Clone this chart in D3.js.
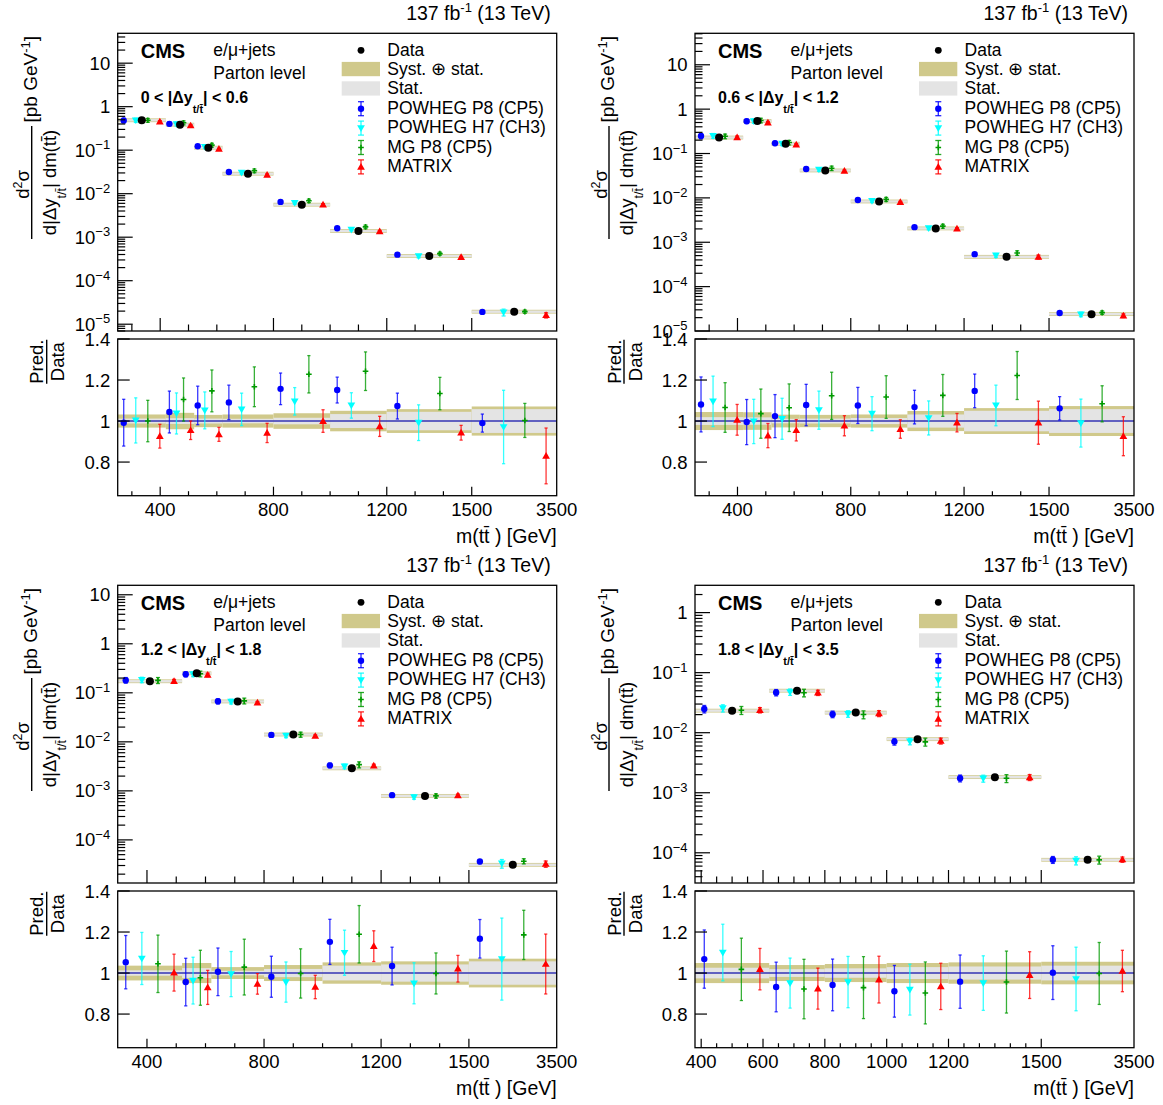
<!DOCTYPE html>
<html><head><meta charset="utf-8">
<script src="https://cdn.jsdelivr.net/npm/d3@7"></script>
<style>
body{margin:0;background:#fff}
text{font-family:"Liberation Sans",Arial,Helvetica,sans-serif;fill:#000}
</style>
</head><body>
<svg id="c" width="1163" height="1105"></svg>
<script>
// ---------------- DATA ----------------
const seriesNames = ["POWHEG P8 (CP5)", "POWHEG H7 (CH3)", "MG P8 (CP5)", "MATRIX"];
const dyRanges = [["0", "0.6"], ["0.6", "1.2"], ["1.2", "1.8"], ["1.8", "3.5"]];
const ratioRange = [0.636, 1.4];
const ratioTicks = [0.8, 1, 1.2, 1.4];
const ratioTickLabels = ["0.8", "1", "1.2", "1.4"];

// |dy| 0 - 0.6
const bins1 = [250, 420, 520, 620, 800, 1000, 1200, 1500, 3500];
const data1 = [0.487, 0.386, 0.114, 0.0288, 0.00559, 0.00139, 0.00037, 0.0000194];
const tot1 = [0.032, 0.040, 0.030, 0.032, 0.038, 0.050, 0.058, 0.071];
const stat1 = [0.012, 0.014, 0.012, 0.011, 0.016, 0.034, 0.045, 0.058];
const p8_1 = [0.992, 1.044, 1.076, 1.091, 1.157, 1.151, 1.073, 0.990];
const p8e_1 = [0.114, 0.102, 0.094, 0.084, 0.077, 0.063, 0.063, 0.044];
const h7_1 = [1.003, 1.037, 1.052, 1.057, 1.096, 1.076, 0.992, 0.971];
const h7e_1 = [0.110, 0.100, 0.090, 0.079, 0.067, 0.062, 0.087, 0.179];
const mg_1 = [1.000, 1.105, 1.147, 1.167, 1.228, 1.243, 1.134, 1.003];
const mge_1 = [0.101, 0.105, 0.102, 0.097, 0.091, 0.094, 0.079, 0.083];
const mx_1 = [0.926, 0.955, 0.935, 0.942, 1.000, 0.974, 0.943, 0.830];
const mxe_1 = [0.058, 0.045, 0.034, 0.047, 0.055, 0.049, 0.036, 0.136];
const yRange1 = [6.98e-6, 48.6];
const xTickLabels1 = [400, 800, 1200, 1500, 3500];

// |dy| 0.6 - 1.2
const bins2 = [250, 420, 520, 620, 800, 1000, 1200, 1500, 3500];
const data2 = [0.229, 0.537, 0.166, 0.0415, 0.0083, 0.00205, 0.00047, 0.000024];
const tot2 = [0.044, 0.043, 0.031, 0.030, 0.032, 0.049, 0.063, 0.073];
const stat2 = [0.019, 0.018, 0.011, 0.012, 0.015, 0.032, 0.050, 0.058];
const p8_2 = [1.081, 0.995, 1.024, 1.078, 1.076, 1.068, 1.147, 1.062];
const p8e_2 = [0.134, 0.110, 0.105, 0.101, 0.088, 0.082, 0.082, 0.057];
const h7_2 = [1.096, 0.998, 1.011, 1.053, 1.036, 1.015, 1.076, 0.990];
const h7e_2 = [0.123, 0.108, 0.100, 0.093, 0.083, 0.083, 0.099, 0.117];
const mg_2 = [1.066, 1.036, 1.065, 1.123, 1.117, 1.125, 1.222, 1.084];
const mge_2 = [0.121, 0.120, 0.116, 0.115, 0.104, 0.102, 0.117, 0.088];
const mx_2 = [1.006, 0.929, 0.955, 0.977, 0.961, 0.992, 0.992, 0.926];
const mxe_2 = [0.075, 0.059, 0.052, 0.049, 0.045, 0.045, 0.105, 0.095];
const yRange2 = [1.0e-5, 51.2];
const xTickLabels2 = [400, 800, 1200, 1500, 3500];

// |dy| 1.2 - 1.8
const bins3 = [300, 520, 620, 800, 1000, 1200, 1500, 3500];
const data3 = [0.172, 0.25, 0.0667, 0.0141, 0.00288, 0.00079, 0.000031];
const tot3 = [0.036, 0.049, 0.029, 0.039, 0.052, 0.057, 0.070];
const stat3 = [0.013, 0.024, 0.011, 0.020, 0.036, 0.042, 0.057];
const p8_3 = [1.053, 0.956, 1.006, 0.982, 1.152, 1.034, 1.167];
const p8e_3 = [0.130, 0.116, 0.116, 0.100, 0.110, 0.092, 0.094];
const h7_3 = [1.071, 0.963, 0.995, 0.956, 1.099, 0.950, 1.068];
const h7e_3 = [0.127, 0.114, 0.110, 0.098, 0.110, 0.100, 0.200];
const mg_3 = [1.045, 0.977, 1.029, 0.998, 1.189, 0.998, 1.186];
const mge_3 = [0.140, 0.134, 0.136, 0.120, 0.140, 0.100, 0.120];
const mx_3 = [1.002, 0.930, 0.947, 0.932, 1.131, 1.021, 1.044];
const mxe_3 = [0.090, 0.083, 0.050, 0.057, 0.075, 0.065, 0.146];
const yRange3 = [1.32e-5, 15.6];
const xTickLabels3 = [400, 800, 1200, 1500, 3500];

// |dy| 1.8 - 3.5
const bins4 = [380, 620, 800, 1000, 1200, 1500, 3500];
const data4 = [0.0233, 0.0501, 0.0216, 0.0078, 0.00182, 0.0000765];
const tot4 = [0.049, 0.039, 0.044, 0.049, 0.052, 0.055];
const stat4 = [0.026, 0.019, 0.023, 0.029, 0.032, 0.036];
const p8_4 = [1.068, 0.932, 0.942, 0.911, 0.958, 1.002];
const p8e_4 = [0.142, 0.121, 0.126, 0.126, 0.130, 0.131];
const h7_4 = [1.100, 0.951, 0.956, 0.919, 0.951, 0.971];
const h7e_4 = [0.138, 0.122, 0.125, 0.124, 0.133, 0.155];
const mg_4 = [1.018, 0.922, 0.929, 0.903, 0.956, 0.998];
const mge_4 = [0.152, 0.145, 0.151, 0.151, 0.151, 0.151];
const mx_4 = [1.019, 0.924, 0.968, 0.935, 0.990, 1.010];
const mxe_4 = [0.101, 0.100, 0.114, 0.113, 0.114, 0.101];
const yRange4 = [3.14e-5, 2.85];
const xTickLabels4 = [400, 600, 800, 1000, 1200, 1500, 3500];

const panels = [
  {bins: bins1, data: data1, tot: tot1, stat: stat1, preds: [p8_1, h7_1, mg_1, mx_1], errs: [p8e_1, h7e_1, mge_1, mxe_1], yRange: yRange1, xLabels: xTickLabels1, minor: 100, dy: dyRanges[0]},
  {bins: bins2, data: data2, tot: tot2, stat: stat2, preds: [p8_2, h7_2, mg_2, mx_2], errs: [p8e_2, h7e_2, mge_2, mxe_2], yRange: yRange2, xLabels: xTickLabels2, minor: 100, dy: dyRanges[1]},
  {bins: bins3, data: data3, tot: tot3, stat: stat3, preds: [p8_3, h7_3, mg_3, mx_3], errs: [p8e_3, h7e_3, mge_3, mxe_3], yRange: yRange3, xLabels: xTickLabels3, minor: 100, dy: dyRanges[2]},
  {bins: bins4, data: data4, tot: tot4, stat: stat4, preds: [p8_4, h7_4, mg_4, mx_4], errs: [p8e_4, h7e_4, mge_4, mxe_4], yRange: yRange4, xLabels: xTickLabels4, minor: 50, dy: dyRanges[3]}
];

// ---------------- STYLE / LAYOUT ----------------
const layout = [
  {x0: 117.7, x1: 556.7, top: 33.3},
  {x0: 695, x1: 1134, top: 33.3},
  {x0: 117.7, x1: 556.7, top: 585.3},
  {x0: 695, x1: 1134, top: 585.3}
];
const colors = ["#0000ff", "#00ffff", "#009a00", "#ff0000"];
const shapes = ["circle", "tridown", "plus", "triup"];
const KHAKI = "#d0c98b", GREY = "#e4e4e4";
const FS = 17.5;   // legend / label font
const FT = 18.5;   // tick labels / titles

const svg = d3.select("#c");

function marker(g, shape, cx, cy, color) {
  if (shape === "circle") {
    g.append("circle").attr("cx", cx).attr("cy", cy).attr("r", 3.2).attr("fill", color);
  } else if (shape === "triup" || shape === "tridown") {
    g.append("path").attr("d", d3.symbol(d3.symbolTriangle, 26)())
      .attr("transform", `translate(${cx},${cy + (shape === "triup" ? 0.6 : -0.6)}) rotate(${shape === "triup" ? 0 : 180})`)
      .attr("fill", color);
  } else if (shape === "plus") {
    g.append("path").attr("d", `M${cx - 2.8},${cy}H${cx + 2.8}M${cx},${cy - 2.8}V${cy + 2.8}`)
      .attr("stroke", color).attr("stroke-width", 1.6);
  }
}
function errBar(g, cx, ya, yb, color, cap, op) {
  g.append("line").attr("x1", cx).attr("x2", cx).attr("y1", ya).attr("y2", yb)
    .attr("stroke", color).attr("stroke-width", 1.3).attr("stroke-opacity", op);
  [ya, yb].forEach(y => g.append("line").attr("x1", cx - cap).attr("x2", cx + cap).attr("y1", y).attr("y2", y)
    .attr("stroke", color).attr("stroke-width", 1.3).attr("stroke-opacity", op));
}

panels.forEach((p, i) => {
  const L = layout[i];
  const x0 = L.x0, x1 = L.x1;
  const uTop = L.top, uBot = L.top + 297.7, rTop = L.top + 305.7, rBot = L.top + 462.4;
  const g = svg.append("g");
  const lo = p.bins[0];
  const k = (x1 - x0) / ((1500 - lo) + 300);
  const xs = d3.scaleLinear().domain([lo, 1500, 3500]).range([x0, x0 + (1500 - lo) * k, x1]);
  const ys = d3.scaleLog().domain(p.yRange).range([uBot, uTop]);
  const rs = d3.scaleLinear().domain(ratioRange).range([rBot, rTop]);
  const nb = p.data.length;

  // ---------- upper panel ----------
  const up = g.append("g");
  for (let b = 0; b < nb; b++) {
    const xa = xs(p.bins[b]), xb = xs(p.bins[b + 1]);
    const d = p.data[b];
    const yc = ys(d);
    let h1 = ys(d * (1 - p.tot[b])) - ys(d * (1 + p.tot[b])); h1 = Math.max(h1, 3.8);
    let h2 = ys(d * (1 - p.stat[b])) - ys(d * (1 + p.stat[b])); h2 = Math.max(h2, 2.4);
    up.append("rect").attr("x", xa).attr("width", xb - xa).attr("y", yc - h1 / 2).attr("height", h1).attr("fill", KHAKI);
    up.append("rect").attr("x", xa).attr("width", xb - xa).attr("y", yc - h2 / 2).attr("height", h2).attr("fill", GREY);
  }
  for (let b = 0; b < nb; b++) {
    const xa = xs(p.bins[b]), xb = xs(p.bins[b + 1]);
    for (let s = 0; s < 4; s++) {
      const cx = xa + (xb - xa) * (2 * s + 1) / 8;
      const v = p.data[b] * p.preds[s][b];
      const e = p.errs[s][b];
      errBar(up, cx, ys(v * (1 + e)), ys(v * (1 - e)), colors[s], 2, 0.85);
      marker(up, shapes[s], cx, ys(v), colors[s]);
    }
    up.append("circle").attr("cx", (xa + xb) / 2).attr("cy", ys(p.data[b])).attr("r", 4).attr("fill", "#000");
  }

  // ---------- ratio panel ----------
  const rp = g.append("g");
  for (let b = 0; b < nb; b++) {
    const xa = xs(p.bins[b]), xb = xs(p.bins[b + 1]);
    rp.append("rect").attr("x", xa).attr("width", xb - xa).attr("y", rs(1 + p.tot[b])).attr("height", rs(1 - p.tot[b]) - rs(1 + p.tot[b])).attr("fill", KHAKI);
    rp.append("rect").attr("x", xa).attr("width", xb - xa).attr("y", rs(1 + p.stat[b])).attr("height", rs(1 - p.stat[b]) - rs(1 + p.stat[b])).attr("fill", GREY);
  }
  rp.append("line").attr("x1", x0).attr("x2", x1).attr("y1", rs(1)).attr("y2", rs(1)).attr("stroke", "#3434b4").attr("stroke-width", 1.4);
  for (let b = 0; b < nb; b++) {
    const xa = xs(p.bins[b]), xb = xs(p.bins[b + 1]);
    for (let s = 0; s < 4; s++) {
      const cx = xa + (xb - xa) * (2 * s + 1) / 8;
      const r = p.preds[s][b], e = p.errs[s][b];
      errBar(rp, cx, rs(r + e), rs(r - e), colors[s], 1.6, 0.78);
      marker(rp, shapes[s], cx, rs(r), colors[s]);
    }
  }

  // ---------- frames ----------
  g.append("rect").attr("x", x0).attr("y", uTop).attr("width", x1 - x0).attr("height", uBot - uTop).attr("fill", "none").attr("stroke", "#000").attr("stroke-width", 1.3);
  g.append("rect").attr("x", x0).attr("y", rTop).attr("width", x1 - x0).attr("height", rBot - rTop).attr("fill", "none").attr("stroke", "#000").attr("stroke-width", 1.3);

  // ---------- x ticks ----------
  const majorSet = new Set(p.xLabels.filter(v => v < 3500));
  const tickVals = d3.range(Math.ceil((lo + 1) / p.minor) * p.minor, 1500 + 1, p.minor);
  tickVals.forEach(v => {
    const x = xs(v);
    const maj = majorSet.has(v);
    g.append("line").attr("x1", x).attr("x2", x).attr("y1", uBot).attr("y2", uBot - (maj ? 13 : 6.5)).attr("stroke", "#000").attr("stroke-width", 1.2);
    g.append("line").attr("x1", x).attr("x2", x).attr("y1", rBot).attr("y2", rBot - (maj ? 9 : 4.5)).attr("stroke", "#000").attr("stroke-width", 1.2);
  });
  p.xLabels.forEach(v => {
    g.append("text").attr("x", xs(v)).attr("y", rBot + 20.5).attr("text-anchor", "middle").attr("font-size", FT).text(v);
  });
  const xt = g.append("text").attr("x", x1).attr("y", rBot + 47).attr("text-anchor", "end").attr("font-size", 19.5);
  xt.append("tspan").text("m(t");
  xt.append("tspan").text("t\u0304");
  xt.append("tspan").text(" ) [GeV]");

  // ---------- y ticks (log) ----------
  const eMin = Math.floor(Math.log10(p.yRange[0])), eMax = Math.ceil(Math.log10(p.yRange[1]));
  for (let e = eMin; e <= eMax; e++) {
    for (let m = 1; m <= 9; m++) {
      const v = m * Math.pow(10, e);
      if (v < p.yRange[0] * 0.999 || v > p.yRange[1]) continue;
      const y = ys(v);
      g.append("line").attr("x1", x0).attr("x2", x0 + (m === 1 ? 15 : 7.5)).attr("y1", y).attr("y2", y).attr("stroke", "#000").attr("stroke-width", 1.2);
    }
    const vv = Math.pow(10, e);
    if (vv >= p.yRange[0] * 0.97 && vv <= p.yRange[1]) {
      const t = g.append("text").attr("x", x0 - 7.5).attr("y", ys(vv) + 6.5).attr("text-anchor", "end").attr("font-size", FT);
      if (e === 0) t.text("1");
      else if (e === 1) t.text("10");
      else {
        t.append("tspan").text("10");
        t.append("tspan").attr("dy", -7.5).attr("font-size", 13).text("\u2212" + Math.abs(e));
      }
    }
  }
  ratioTicks.forEach((v, j) => {
    const y = rs(v);
    g.append("line").attr("x1", x0).attr("x2", x0 + 12).attr("y1", y).attr("y2", y).attr("stroke", "#000").attr("stroke-width", 1.2);
    g.append("text").attr("x", x0 - 7.5).attr("y", y + 6.5).attr("text-anchor", "end").attr("font-size", FT).text(ratioTickLabels[j]);
  });

  // ---------- y titles ----------
  const cy = uTop + 149.2, cx = x0 - 86;
  const yt = g.append("g").attr("transform", `translate(${cx},${cy}) rotate(-90)`);
  yt.append("line").attr("x1", -56.5).attr("x2", 56.5).attr("y1", 0).attr("y2", 0).attr("stroke", "#000").attr("stroke-width", 1.4);
  const num = yt.append("text").attr("x", -2).attr("y", -2.5).attr("text-anchor", "middle").attr("font-size", FT);
  num.append("tspan").text("d");
  num.append("tspan").attr("dy", -7).attr("font-size", 12.5).text("2");
  num.append("tspan").attr("dy", 7).text("\u03c3");
  const den = yt.append("text").attr("x", 0).attr("y", 24).attr("text-anchor", "middle").attr("font-size", FT);
  den.append("tspan").text("d|\u0394y");
  den.append("tspan").attr("dy", 10).attr("font-size", 12.5).text("t/t\u0304");
  den.append("tspan").attr("dy", -10).text("| dm(tt\u0304)");
  const unit = yt.append("text").attr("x", 60).attr("y", 5.3).attr("font-size", 19);
  unit.append("tspan").text("[pb GeV");
  unit.append("tspan").attr("dy", -7.5).attr("font-size", 13).text("-1");
  unit.append("tspan").attr("dy", 7.5).text("]");

  const rcy = rTop + 22.7, rcx = x0 - 71;
  const rt = g.append("g").attr("transform", `translate(${rcx},${rcy}) rotate(-90)`);
  rt.append("line").attr("x1", -22).attr("x2", 22).attr("y1", 0).attr("y2", 0).attr("stroke", "#000").attr("stroke-width", 1.4);
  rt.append("text").attr("x", 0).attr("y", -3.5).attr("text-anchor", "middle").attr("font-size", FT).text("Pred.");
  rt.append("text").attr("x", 0).attr("y", 17.8).attr("text-anchor", "middle").attr("font-size", FT).text("Data");

  // ---------- lumi ----------
  const lumi = g.append("text").attr("x", x1 - 6).attr("y", uTop - 13).attr("text-anchor", "end").attr("font-size", 19.5);
  lumi.append("tspan").text("137 fb");
  lumi.append("tspan").attr("dy", -8).attr("font-size", 13).text("-1");
  lumi.append("tspan").attr("dy", 8).text(" (13 TeV)");

  // ---------- labels ----------
  g.append("text").attr("x", x0 + 23).attr("y", uTop + 25).attr("font-size", 20).attr("font-weight", "bold").text("CMS");
  g.append("text").attr("x", x0 + 95.6).attr("y", uTop + 23).attr("font-size", FS).text("e/\u03bc+jets");
  g.append("text").attr("x", x0 + 95.6).attr("y", uTop + 45.7).attr("font-size", FS).text("Parton level");
  const dl = g.append("text").attr("x", x0 + 23).attr("y", uTop + 70).attr("font-size", 16).attr("font-weight", "bold");
  dl.append("tspan").text(`${p.dy[0]} < |\u0394y`);
  dl.append("tspan").attr("dy", 9.5).attr("font-size", 11).text("t/t\u0304");
  dl.append("tspan").attr("dy", -9.5).text(`| < ${p.dy[1]}`);

  // ---------- legend ----------
  const lx = x0 + 243.3, tx = x0 + 269.6;
  const rowY = j => uTop + 16.2 + j * 19.4;
  g.append("circle").attr("cx", lx).attr("cy", rowY(0) + 0.8).attr("r", 3.4).attr("fill", "#000");
  g.append("text").attr("x", tx).attr("y", rowY(0) + 6).attr("font-size", FS).text("Data");
  g.append("rect").attr("x", x0 + 224).attr("y", rowY(1) - 7).attr("width", 38.3).attr("height", 14.3).attr("fill", KHAKI);
  g.append("text").attr("x", tx).attr("y", rowY(1) + 6).attr("font-size", FS).text("Syst. \u2295 stat.");
  g.append("rect").attr("x", x0 + 224).attr("y", rowY(2) - 7).attr("width", 38.3).attr("height", 14.3).attr("fill", GREY);
  g.append("text").attr("x", tx).attr("y", rowY(2) + 6).attr("font-size", FS).text("Stat.");
  for (let s = 0; s < 4; s++) {
    const y = rowY(3 + s) + 1;
    errBar(g, lx, y - 7, y + 7, colors[s], 3, 0.85);
    marker(g, shapes[s], lx, y, colors[s]);
    g.append("text").attr("x", tx).attr("y", rowY(3 + s) + 6).attr("font-size", FS).text(seriesNames[s]);
  }
});
</script>
</body></html>
